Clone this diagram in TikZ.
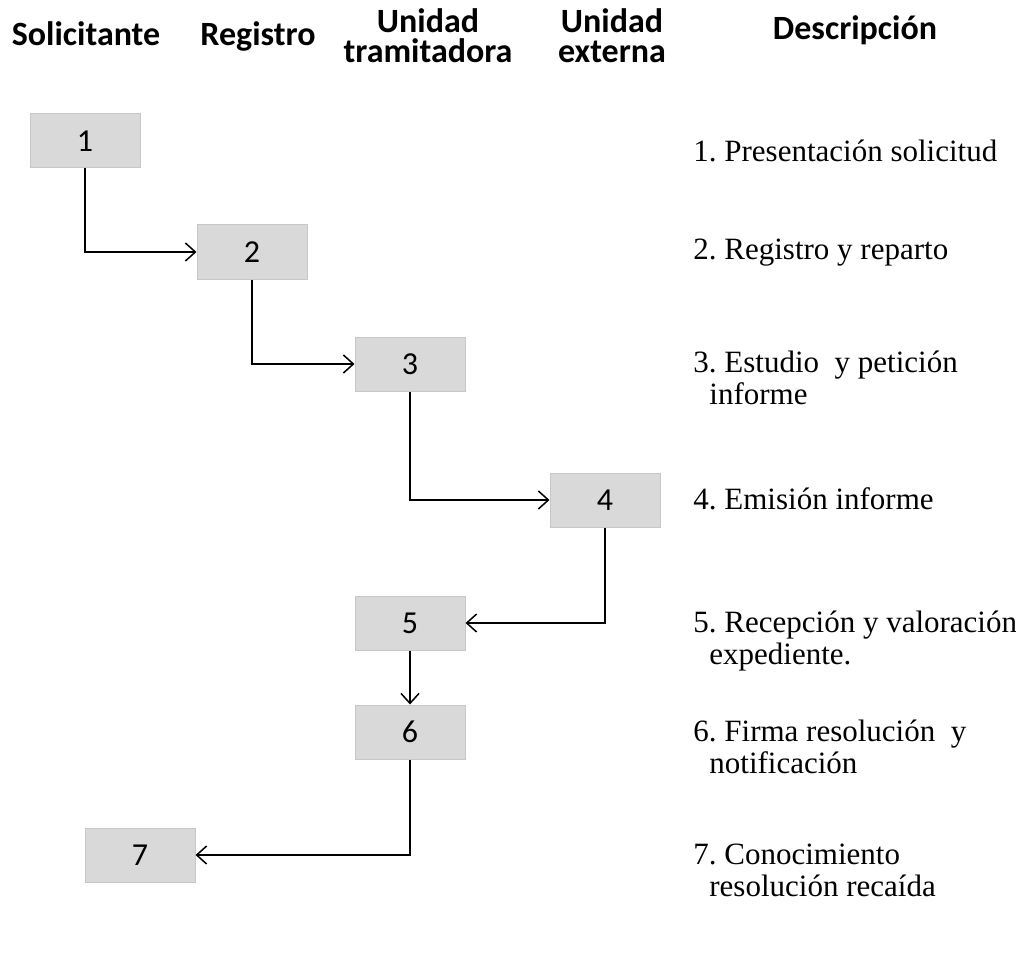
\documentclass[tikz,border=0pt]{standalone}
\usepackage{fontspec}
\setmainfont{Liberation Serif}
\newfontfamily\calibri{Carlito}
\usetikzlibrary{arrows.meta}

\begin{document}
\frenchspacing
\begin{tikzpicture}[x=0.5pt,y=-0.5pt]
        \tikzstyle{paso}=[draw=black!22, fill=black!15, line width=0.5pt, minimum width=55pt, minimum height=27pt, inner sep=0pt, font=\calibri\fontsize{16}{18}\selectfont]
        \tikzstyle{cabecera}=[anchor=base, align=center, inner sep=0pt, font=\calibri\bfseries\fontsize{17}{15}\selectfont]
        \tikzstyle{texto}=[anchor=base west, align=left, inner sep=0pt, font=\fontsize{15.5}{16}\selectfont]
        \tikzstyle{flecha}=[-{Straight Barb[length=5pt,width=9pt]}, line width=0.75pt]

        \useasboundingbox (0,0) rectangle (1016,957);

        % cabeceras
        \node[cabecera] (h1) at (86,46) {Solicitante};
        \node[cabecera] (h2) at (258,46) {Registro};
        \node[cabecera] (h3) at (428,63) {Unidad\\tramitadora};
        \node[cabecera] (h4) at (612,63) {Unidad\\externa};
        \node[cabecera] (h5) at (855,40) {Descripción};

        % pasos
        \node[paso] (b1) at (85,141) {1};
        \node[paso] (b2) at (252,252) {2};
        \node[paso] (b3) at (410,364) {3};
        \node[paso] (b4) at (605,500) {4};
        \node[paso] (b5) at (410,623) {5};
        \node[paso] (b6) at (410,732) {6};
        \node[paso] (b7) at (140,855) {7};

        \draw[flecha] (b1) |- (b2);
        \draw[flecha] (b2) |- (b3);
        \draw[flecha] (b3) |- (b4);
        \draw[flecha] (b4) |- (b5);
        \draw[flecha] (b5) -- (b6);
        \draw[flecha] (b6) |- (b7);

        % descripcion (base = ultima linea)
        \node[texto] (d1) at (693,162) {1. Presentación solicitud};
        \node[texto] (d2) at (693,259) {2. Registro y reparto};
        \node[texto] (d3) at (693,404) {3. Estudio\ \ y petición\\\hspace*{8pt}informe};
        \node[texto] (d4) at (693,509) {4. Emisión informe};
        \node[texto] (d5) at (693,664) {5. Recepción y valoración\\\hspace*{8pt}expediente.};
        \node[texto] (d6) at (693,773) {6. Firma resolución\ \ y\\\hspace*{8pt}notificación};
        \node[texto] (d7) at (693,896) {7. Conocimiento\\\hspace*{8pt}resolución recaída};
    \end{tikzpicture}
\end{document}
